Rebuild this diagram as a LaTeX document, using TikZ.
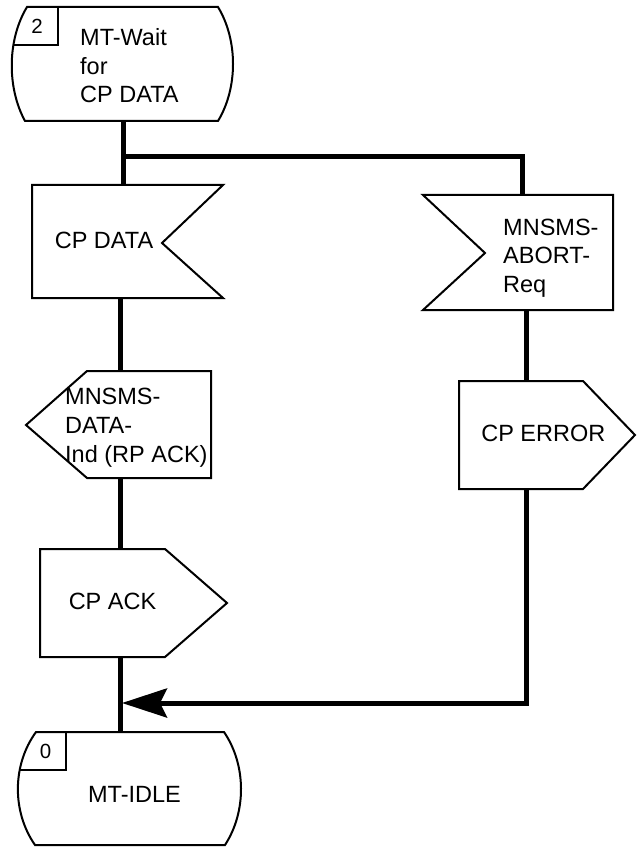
\documentclass[tikz,border=0pt]{standalone}
\usepackage{fontspec}
\setmainfont{Liberation Sans}
\usetikzlibrary{arrows.meta}
\begin{document}
\begin{tikzpicture}[x=1pt,y=-1pt,
  shapeline/.style={line width=2pt,line join=miter},
  conn/.style={line width=5pt,line join=miter},
  lbl/.style={inner sep=0pt,font=\fontsize{23.5}{28.5}\selectfont},
  mlbl/.style={lbl,align=left,anchor=west},
  numlbl/.style={inner sep=0pt,font=\fontsize{20.5}{24}\selectfont}]
\useasboundingbox (0,0) rectangle (637,850);

% ---- top state
\def\stateA{(27,7) -- (218,7) .. controls (238,40) and (238,88) .. (218,121) -- (25,121) .. controls (7,88) and (7,40) .. (27,7) -- cycle}
\begin{scope}
  \clip \stateA;
  \draw[shapeline] (-10,7) rectangle (58,45);
\end{scope}
\draw[shapeline] \stateA;
\node[numlbl] (n2) at (37,26) {2};
\node[mlbl] (wait) at (80,66) {MT-Wait\\for\\CP DATA};
\coordinate (s1b) at (123,121);

% ---- CP DATA input
\draw[shapeline] (32,185) -- (223,185) -- (162,243) -- (223,298) -- (32,298) -- cycle;
\node[lbl] (cpdata) at (104,240.5) {CP DATA};
\coordinate (d1t) at (123,185);
\coordinate (d1b) at (120,298);

% ---- MNSMS-ABORT-Req input
\draw[shapeline] (423,195) -- (613,195) -- (613,310) -- (423,310) -- (485,253) -- cycle;
\node[mlbl] (abort) at (503,258) {MNSMS-\\ABORT-\\Req};
\coordinate (a1t) at (522,195);
\coordinate (a1b) at (526,310);

% ---- MNSMS-DATA-Ind output
\draw[shapeline] (26,425) -- (87,371) -- (211,371) -- (211,478) -- (87,478) -- cycle;
\node[mlbl,font=\fontsize{23.5}{29}\selectfont] (dataind) at (65,428) {MNSMS-\\DATA-\\Ind (RP ACK)};
\coordinate (o1t) at (120,371);
\coordinate (o1b) at (120,478);

% ---- CP ERROR output
\draw[shapeline] (459,381) -- (583,381) -- (635,435) -- (583,489) -- (459,489) -- cycle;
\node[lbl] (cperror) at (543.3,433.3) {CP ERROR};
\coordinate (e1t) at (526,381);
\coordinate (e1b) at (526,489);

% ---- CP ACK output
\draw[shapeline] (40,549) -- (165,549) -- (227,603) -- (165,657) -- (40,657) -- cycle;
\node[lbl] (cpack) at (112.5,601.3) {CP ACK};
\coordinate (k1t) at (120,549);
\coordinate (k1b) at (120,657);

% ---- bottom state
\def\stateB{(36,732) -- (224,732) .. controls (246.5,765) and (246.5,812) .. (225,845) -- (35,845) .. controls (12,812) and (12,765) .. (36,732) -- cycle}
\begin{scope}
  \clip \stateB;
  \draw[shapeline] (-10,732) rectangle (66,770);
\end{scope}
\draw[shapeline] \stateB;
\node[numlbl] (n0) at (45.5,751) {0};
\node[lbl] (idle) at (134.5,794.7) {MT-IDLE};
\coordinate (s2t) at (120,732);

% ---- connectors
\coordinate (branch) at (123,157);
\coordinate (branchR) at (522,157);
\coordinate (retR) at (526,703);
\coordinate (retL) at (122,703);
\draw[conn] (s1b) -- (d1t);
\draw[conn] (branch) -- (branchR) -- (a1t);
\draw[conn] (d1b) -- (o1t);
\draw[conn] (o1b) -- (k1t);
\draw[conn] (k1b) -- (s2t);
\draw[conn] (a1b) -- (e1t);
\draw[conn,-{Stealth[length=45pt,width=29pt,inset=7pt]}] (e1b) -- (retR) -- (retL);
\end{tikzpicture}
\end{document}
